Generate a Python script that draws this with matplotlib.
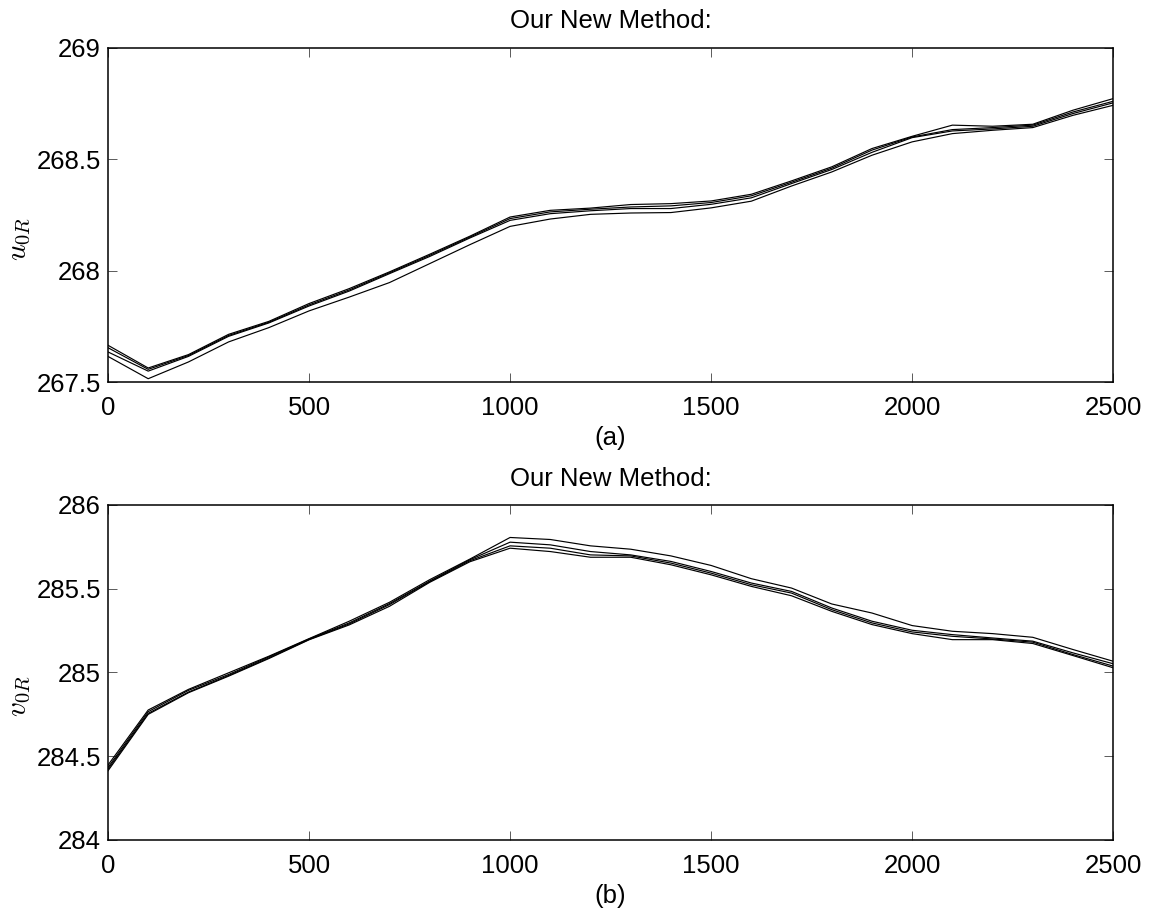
import numpy as np
import matplotlib
matplotlib.use("Agg")
import matplotlib.pyplot as plt

plt.rcParams["font.family"] = ["Liberation Sans", "DejaVu Sans"]
plt.rcParams["mathtext.fontset"] = "cm"
plt.rcParams["font.size"] = 18.5

# Iteration axis (shared by both panels)
x = np.arange(0, 2600, 100)

# Panel (a): u_0R, four runs
u_runs = [
    [267.665, 267.563, 267.623, 267.714, 267.772, 267.852, 267.919, 267.994, 268.073, 268.154,
     268.240, 268.270, 268.280, 268.296, 268.300, 268.312, 268.342, 268.402, 268.465, 268.547,
     268.602, 268.652, 268.647, 268.656, 268.719, 268.771],
    [267.654, 267.557, 267.619, 267.709, 267.768, 267.846, 267.913, 267.990, 268.068, 268.150,
     268.233, 268.263, 268.275, 268.285, 268.290, 268.305, 268.335, 268.396, 268.459, 268.540,
     268.599, 268.632, 268.641, 268.652, 268.711, 268.759],
    [267.635, 267.549, 267.615, 267.705, 267.765, 267.841, 267.908, 267.986, 268.063, 268.146,
     268.225, 268.255, 268.268, 268.278, 268.278, 268.297, 268.326, 268.390, 268.453, 268.530,
     268.596, 268.626, 268.635, 268.647, 268.704, 268.752],
    [267.615, 267.515, 267.590, 267.680, 267.744, 267.819, 267.881, 267.946, 268.031, 268.116,
     268.198, 268.231, 268.252, 268.258, 268.260, 268.281, 268.311, 268.379, 268.442, 268.517,
     268.577, 268.614, 268.629, 268.641, 268.696, 268.741],
]

# Panel (b): v_0R, four runs
v_runs = [
    [284.447, 284.776, 284.899, 284.998, 285.097, 285.202, 285.306, 285.419, 285.554, 285.677,
     285.806, 285.794, 285.756, 285.736, 285.696, 285.639, 285.560, 285.504, 285.409, 285.355,
     285.280, 285.246, 285.232, 285.210, 285.137, 285.067],
    [284.433, 284.766, 284.893, 284.988, 285.093, 285.200, 285.296, 285.411, 285.546, 285.673,
     285.778, 285.762, 285.722, 285.702, 285.663, 285.603, 285.534, 285.484, 285.385, 285.306,
     285.252, 285.226, 285.206, 285.187, 285.117, 285.052],
    [284.423, 284.756, 284.883, 284.982, 285.087, 285.197, 285.290, 285.405, 285.542, 285.667,
     285.756, 285.742, 285.702, 285.696, 285.653, 285.593, 285.524, 285.474, 285.375, 285.296,
     285.242, 285.216, 285.200, 285.181, 285.107, 285.038],
    [284.413, 284.750, 284.879, 284.978, 285.083, 285.195, 285.284, 285.395, 285.538, 285.661,
     285.742, 285.722, 285.688, 285.688, 285.643, 285.583, 285.514, 285.458, 285.365, 285.286,
     285.232, 285.196, 285.196, 285.173, 285.101, 285.028],
]

fig = plt.figure(figsize=(11.5, 9.14), dpi=100)
ax1 = fig.add_axes([0.0939, 0.582, 0.8741, 0.366])
ax2 = fig.add_axes([0.0939, 0.081, 0.8741, 0.3665])


def style(ax, ylim, yticks, ylabel, xlabel):
    ax.set_xlim(0, 2500)
    ax.set_ylim(*ylim)
    ax.set_xticks(range(0, 2501, 500))
    ax.set_yticks(yticks)
    ax.set_yticklabels([f"{t:g}" for t in yticks])
    ax.tick_params(direction="in", top=True, right=True, length=6.5, width=0.6,
                   color="0.25", labelsize=18.5)
    ax.tick_params(axis="x", pad=10)
    ax.tick_params(axis="y", pad=5)
    for s in ax.spines.values():
        s.set_linewidth(1.1)
    ax.set_title("Our New Method:", fontsize=18.5, pad=14)
    ax.set_ylabel(ylabel, fontsize=21)
    ax.yaxis.set_label_coords(-0.075, 0.428)
    ax.set_xlabel(xlabel, fontsize=18.5)
    ax.xaxis.set_label_coords(0.5, -0.132)


for r in u_runs:
    ax1.plot(x, r, color="black", lw=0.85)
for r in v_runs:
    ax2.plot(x, r, color="black", lw=0.85)

style(ax1, (267.5, 269), [267.5, 268, 268.5, 269], r"$u_{0R}$", "(a)")
style(ax2, (284, 286), [284, 284.5, 285, 285.5, 286], r"$v_{0R}$", "(b)")

fig.savefig("out.png", dpi=100)
